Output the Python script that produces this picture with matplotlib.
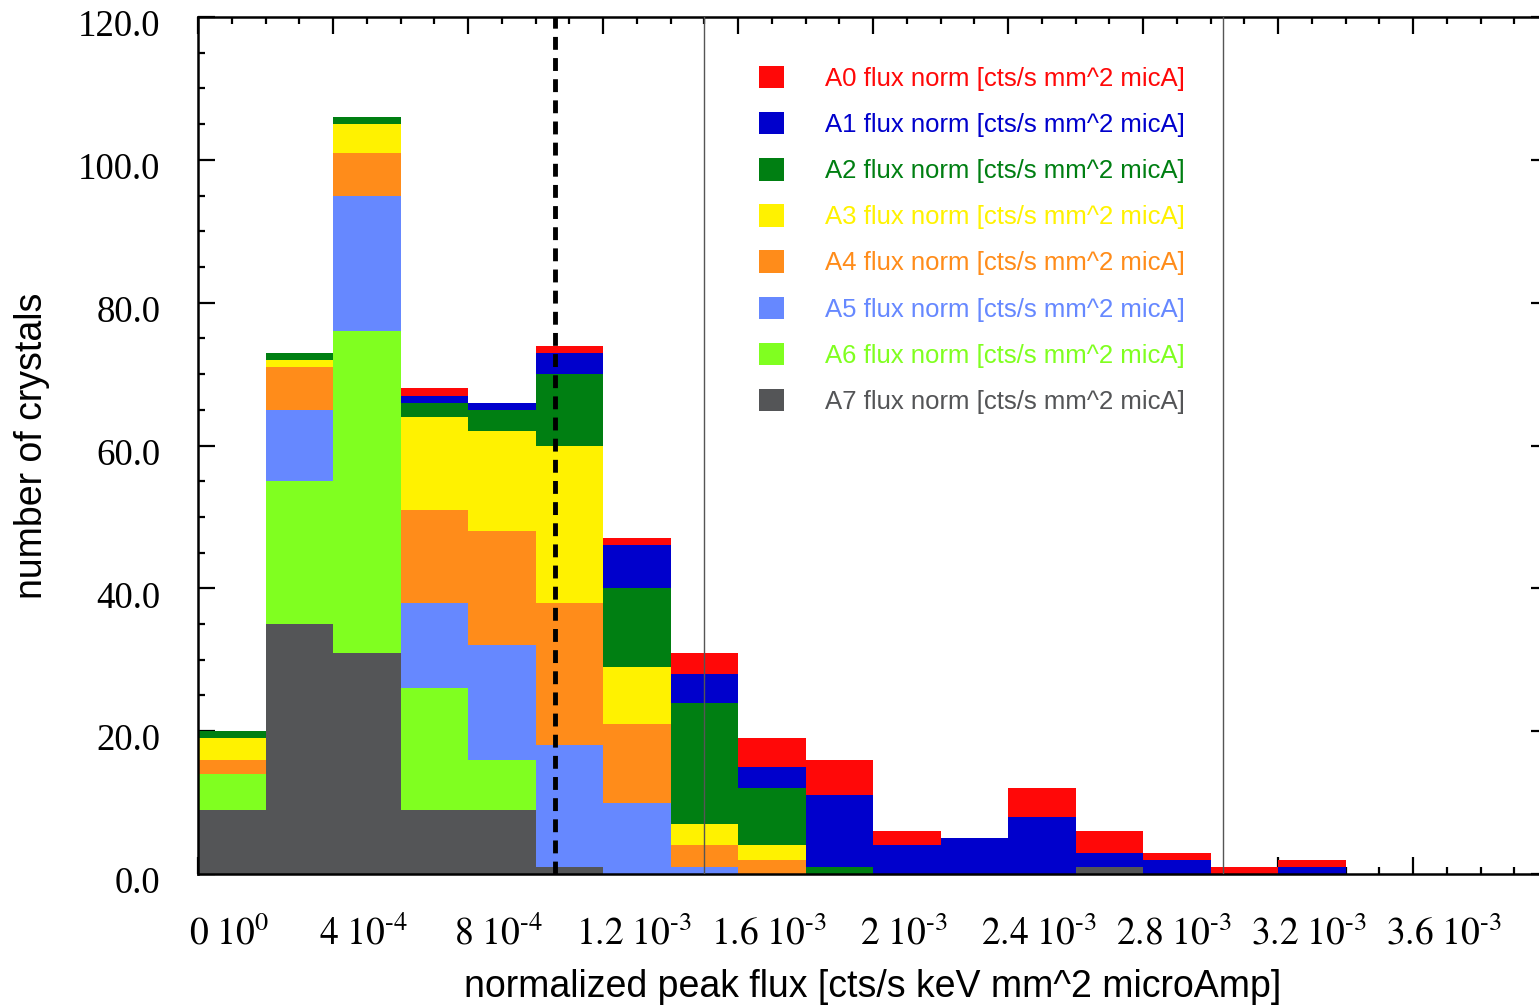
import numpy as np
import matplotlib.pyplot as plt
import matplotlib.transforms as mtransforms
from matplotlib.patches import Patch
from matplotlib.ticker import MultipleLocator

plt.rcParams['mathtext.fontset'] = 'stix'

# bins of the histogram (left edges), width 2e-4
bin_edges = np.arange(0, 4.0e-3, 2e-4)
bin_w = 2e-4

series = ['A0', 'A1', 'A2', 'A3', 'A4', 'A5', 'A6', 'A7']
colors = ['#ff0808', '#0000cc', '#007f12', '#fff200', '#ff8c1a', '#6688ff', '#80ff20', '#545557']

counts = {
    'A7': [9, 35, 31, 9, 9, 1, 0, 0, 0, 0, 0, 0, 0, 1, 0, 0, 0, 0, 0, 0],
    'A6': [5, 20, 45, 17, 7, 0, 0, 0, 0, 0, 0, 0, 0, 0, 0, 0, 0, 0, 0, 0],
    'A5': [0, 10, 19, 12, 16, 17, 10, 1, 0, 0, 0, 0, 0, 0, 0, 0, 0, 0, 0, 0],
    'A4': [2, 6, 6, 13, 16, 20, 11, 3, 2, 0, 0, 0, 0, 0, 0, 0, 0, 0, 0, 0],
    'A3': [3, 1, 4, 13, 14, 22, 8, 3, 2, 0, 0, 0, 0, 0, 0, 0, 0, 0, 0, 0],
    'A2': [1, 1, 1, 2, 3, 10, 11, 17, 8, 1, 0, 0, 0, 0, 0, 0, 0, 0, 0, 0],
    'A1': [0, 0, 0, 1, 1, 3, 6, 4, 3, 10, 4, 5, 8, 2, 2, 0, 1, 0, 0, 0],
    'A0': [0, 0, 0, 1, 0, 1, 1, 3, 4, 5, 2, 0, 4, 3, 1, 1, 1, 0, 0, 0],
}

cut_dashed = 1.058e-3
cut_lines = [1.5e-3, 3.038e-3]

xticks = np.arange(0, 4.0e-3, 4e-4)
xticklabels = [r'$0\ 10^{0}$', r'$4\ 10^{\text{-}4}$', r'$8\ 10^{\text{-}4}$', r'$1.2\ 10^{\text{-}3}$',
               r'$1.6\ 10^{\text{-}3}$', r'$2\ 10^{\text{-}3}$', r'$2.4\ 10^{\text{-}3}$', r'$2.8\ 10^{\text{-}3}$',
               r'$3.2\ 10^{\text{-}3}$', r'$3.6\ 10^{\text{-}3}$']
yticks = np.arange(0, 121, 20)
yticklabels = ['%.1f' % v for v in yticks]

fig = plt.figure(figsize=(15.39, 10.07), dpi=100)
ax = fig.add_axes([198/1539, 1 - 874/1007, 1350/1539, 857/1007])

# stacked bars, A7 at the bottom
bottom = np.zeros(len(bin_edges))
for name, col in zip(series[::-1], colors[::-1]):
    vals = np.array(counts[name], dtype=float)
    ax.bar(bin_edges, vals, width=bin_w, bottom=bottom, align='edge',
           color=col, linewidth=0, zorder=2)
    bottom += vals

for xv in cut_lines:
    ax.axvline(xv, color='#555555', lw=1.0, zorder=3)
ax.axvline(cut_dashed, color='black', lw=3.5, ls=(0, (2.65, 1.7)), zorder=4)

ax.set_xlim(0, 4.0e-3)
ax.set_ylim(0, 120)

ax.set_xticks(xticks)
ax.set_xticklabels(xticklabels, fontsize=27)
ax.xaxis.set_minor_locator(MultipleLocator(1e-4))
ax.set_yticks(yticks)
ax.set_yticklabels(yticklabels, fontsize=26.5, family='Liberation Serif')
ax.yaxis.set_minor_locator(MultipleLocator(5))

ax.tick_params(which='both', direction='in', top=True, right=True, width=1.6, color='black')
ax.tick_params(which='major', length=12)
ax.tick_params(which='minor', length=5)
ax.tick_params(axis='x', pad=30)
ax.tick_params(axis='y', pad=27)
for s in ax.spines.values():
    s.set_linewidth(1.8)

dx = mtransforms.ScaledTranslation(31/100, 0, fig.dpi_scale_trans)
for lab in ax.get_xticklabels():
    lab.set_transform(lab.get_transform() + dx)
dy = mtransforms.ScaledTranslation(0, -6/100, fig.dpi_scale_trans)
for lab in ax.get_yticklabels():
    lab.set_transform(lab.get_transform() + dy)

ax.set_xlabel('normalized peak flux [cts/s keV mm^2 microAmp]', fontsize=27,
              family='Liberation Sans', labelpad=12)
ax.set_ylabel('number of crystals', fontsize=27, family='Liberation Sans', labelpad=20)

handles = [Patch(facecolor=c, edgecolor='none') for c in colors]
labels = [s + ' flux norm [cts/s mm^2 micA]' for s in series]
leg = ax.legend(handles, labels, loc='upper left', bbox_to_anchor=(746/1539, 1 - 53/1007),
                bbox_transform=fig.transFigure, frameon=False, borderpad=0,
                prop={'family': 'Liberation Sans', 'size': 18.5},
                handlelength=0.97, handleheight=0.97, handletextpad=1.6, labelspacing=0.82)
for txt, c in zip(leg.get_texts(), colors):
    txt.set_color(c)

fig.savefig('out.png', dpi=100)
